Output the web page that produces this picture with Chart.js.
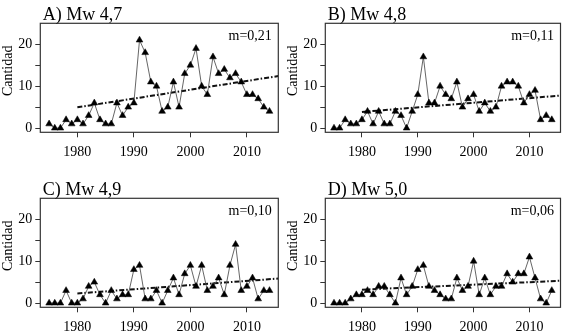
<!DOCTYPE html>
<html lang="es">
<head>
<meta charset="UTF-8">
<title>Cantidad por año</title>
<script src="https://cdn.jsdelivr.net/npm/chart.js"></script>
<style>
  html, body { margin: 0; padding: 0; background: #fff; overflow: hidden; }
  #wrap { position: relative; width: 565px; height: 335px; }
  canvas { position: absolute; }
</style>
</head>
<body>
<div id="wrap">
  <canvas id="chartA" width="285" height="165" style="left:0;top:0"></canvas>
  <canvas id="chartB" width="280" height="165" style="left:285px;top:0"></canvas>
  <canvas id="chartC" width="285" height="165" style="left:0;top:175px"></canvas>
  <canvas id="chartD" width="280" height="165" style="left:285px;top:175px"></canvas>
</div>
<script>
// years 1975-2014
const years = [];
for (let y = 1975; y <= 2014; y++) years.push(y);

const countsA = [1,0,0,2,1,2,1,3,6,2, 1,1,6,3,5,6,21,18,11,10, 4,5,11,5,13,15,19,10,8,17, 13,14,12,13,11,8,8,7,5,4];
const countsB = [0,0,2,1,1,2,4,1,4,1, 1,4,3,0,4,8,17,6,6,10, 8,7,11,5,7,8,4,6,4,5, 10,11,11,10,6,8,9,2,3,2];
const countsC = [0,0,0,3,0,0,1,4,5,2, 0,3,1,2,2,8,9,1,1,3, 0,3,6,2,7,9,4,9,3,4, 6,2,9,14,3,4,6,1,3,3];
const countsD = [0,0,0,1,2,2,3,2,4,4, 2,0,6,2,4,8,9,4,3,2, 1,1,6,3,4,10,2,6,2,4, 4,7,5,7,7,11,6,1,0,3];

const titles = ['A) Mw 4,7', 'B) Mw 4,8', 'C) Mw 4,9', 'D) Mw 5,0'];
const slopes = [0.21, 0.11, 0.10, 0.06];
const slopeLabels = ['m=0,21', 'm=0,11', 'm=0,10', 'm=0,06'];
const trendStart = [4.95, 3.85, 2.3, 3.2];   // fitted value at 1980
const trendFrom = 1980;

const xTicks = [1980, 1990, 2000, 2010];
const yTicks = [0, 5, 10, 15, 20];
const xMin = 1973.44, xMax = 2015.56;
const yMin = -1, yMax = 25;

const serif = "'Liberation Serif', 'DejaVu Serif', serif";

// frame + panel texts
const panelText = {
  id: 'panelText',
  afterDraw(chart, args, opts) {
    const {ctx, chartArea: a} = chart;
    ctx.save();
    ctx.strokeStyle = '#333';
    ctx.lineWidth = 1.2;
    ctx.strokeRect(a.left, a.top, a.right - a.left, a.bottom - a.top);
    ctx.fillStyle = '#000';
    ctx.font = '18px ' + serif;
    ctx.textAlign = 'left';
    ctx.textBaseline = 'alphabetic';
    ctx.fillText(opts.title, a.left + 2.4, a.top - 3);
    ctx.font = '14px ' + serif;
    ctx.textAlign = 'right';
    ctx.fillText(opts.slope, a.right - 6.5, a.top + 17);
    ctx.translate(8, (a.top + a.bottom) / 2 - 7);
    ctx.rotate(-Math.PI / 2);
    ctx.textAlign = 'center';
    ctx.textBaseline = 'middle';
    ctx.fillText('Cantidad', 0, 0);
    ctx.restore();
  }
};

function makePanel(id, counts, i, padRight) {
  const pts = years.map((y, k) => ({x: y, y: counts[k]}));
  const trend = [
    {x: trendFrom, y: trendStart[i]},
    {x: xMax, y: trendStart[i] + slopes[i] * (xMax - trendFrom)}
  ];
  const ctx = document.getElementById(id).getContext('2d');
  return new Chart(ctx, {
    type: 'line',
    data: {
      datasets: [
        {
          data: pts,
          borderColor: '#555',
          borderWidth: 0.9,
          pointStyle: 'triangle',
          pointRadius: 3.9,
          pointBackgroundColor: '#000',
          pointBorderColor: '#000',
          pointBorderWidth: 0.5,
          tension: 0
        },
        {
          data: trend,
          borderColor: '#111',
          borderWidth: 2,
          borderDash: [5, 2, 1.5, 2],
          pointRadius: 0
        }
      ]
    },
    options: {
      responsive: false,
      animation: false,
      layout: { padding: { left: 0, top: 23.3, right: padRight, bottom: 0 } },
      plugins: {
        legend: { display: false },
        tooltip: { enabled: false },
        panelText: { title: titles[i], slope: slopeLabels[i] }
      },
      scales: {
        x: {
          type: 'linear',
          min: xMin,
          max: xMax,
          afterBuildTicks: s => { s.ticks = xTicks.map(v => ({value: v})); },
          afterFit: s => { s.height = 32.7; },
          border: { display: false },
          grid: { drawOnChartArea: false, drawTicks: true, tickLength: 5, color: '#333' },
          ticks: { color: '#000', padding: 7, maxRotation: 0, font: { family: serif, size: 14 },
                   callback: v => String(v) }
        },
        y: {
          min: yMin,
          max: yMax,
          afterBuildTicks: s => { s.ticks = yTicks.map(v => ({value: v})); },
          afterFit: s => { s.width = 40.3; },
          border: { display: false },
          grid: { drawOnChartArea: false, drawTicks: true, tickLength: 5, color: '#333' },
          ticks: { color: '#000', padding: 3, font: { family: serif, size: 14 },
                   callback: v => (v % 10 === 0 ? String(v) : '') }
        }
      }
    },
    plugins: [panelText]
  });
}

makePanel('chartA', countsA, 0, 6.7);
makePanel('chartB', countsB, 1, 1.7);
makePanel('chartC', countsC, 2, 6.7);
makePanel('chartD', countsD, 3, 1.7);
</script>
</body>
</html>
